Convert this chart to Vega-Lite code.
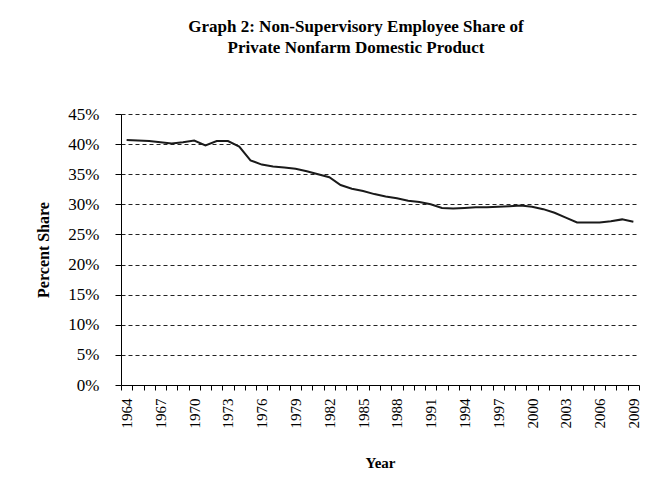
{
  "$schema": "https://vega.github.io/schema/vega-lite/v6.json",
  "width": 518,
  "height": 271,
  "autosize": {"type": "none"},
  "padding": {"left": 121, "top": 114, "right": 24, "bottom": 94},
  "background": "white",
  "title": {
    "text": ["Graph 2: Non-Supervisory Employee Share of", "Private Nonfarm Domestic Product"],
    "font": "Liberation Serif",
    "fontSize": 17,
    "fontWeight": "bold",
    "color": "black",
    "anchor": "middle",
    "offset": 48,
    "lineHeight": 21,
    "dx": -24
  },
  "config": {
    "view": {"stroke": null},
    "axis": {
      "labelFont": "Liberation Serif",
      "titleFont": "Liberation Serif",
      "labelColor": "black",
      "titleColor": "black",
      "domainColor": "black",
      "tickColor": "black",
      "titleFontWeight": "bold"
    }
  },
  "data": {
    "values": [
      {"year": 1964, "share": 40.7},
      {"year": 1965, "share": 40.6},
      {"year": 1966, "share": 40.5},
      {"year": 1967, "share": 40.3},
      {"year": 1968, "share": 40.1},
      {"year": 1969, "share": 40.3},
      {"year": 1970, "share": 40.6},
      {"year": 1971, "share": 39.8},
      {"year": 1972, "share": 40.5},
      {"year": 1973, "share": 40.5},
      {"year": 1974, "share": 39.6},
      {"year": 1975, "share": 37.3},
      {"year": 1976, "share": 36.6},
      {"year": 1977, "share": 36.3},
      {"year": 1978, "share": 36.1},
      {"year": 1979, "share": 35.9},
      {"year": 1980, "share": 35.5},
      {"year": 1981, "share": 35.0},
      {"year": 1982, "share": 34.5},
      {"year": 1983, "share": 33.2},
      {"year": 1984, "share": 32.6},
      {"year": 1985, "share": 32.2},
      {"year": 1986, "share": 31.7},
      {"year": 1987, "share": 31.3},
      {"year": 1988, "share": 31.0},
      {"year": 1989, "share": 30.6},
      {"year": 1990, "share": 30.4},
      {"year": 1991, "share": 30.0},
      {"year": 1992, "share": 29.4},
      {"year": 1993, "share": 29.3},
      {"year": 1994, "share": 29.4},
      {"year": 1995, "share": 29.5},
      {"year": 1996, "share": 29.5},
      {"year": 1997, "share": 29.6},
      {"year": 1998, "share": 29.7},
      {"year": 1999, "share": 29.8},
      {"year": 2000, "share": 29.6},
      {"year": 2001, "share": 29.2},
      {"year": 2002, "share": 28.6},
      {"year": 2003, "share": 27.8},
      {"year": 2004, "share": 27.0},
      {"year": 2005, "share": 27.0},
      {"year": 2006, "share": 27.0},
      {"year": 2007, "share": 27.2},
      {"year": 2008, "share": 27.5},
      {"year": 2009, "share": 27.1}
    ]
  },
  "mark": {"type": "line", "color": "#1a1a1a", "strokeWidth": 2},
  "encoding": {
    "x": {
      "field": "year",
      "type": "ordinal",
      "scale": {"type": "band", "paddingInner": 0, "paddingOuter": 0},
      "axis": {
        "title": "Year",
        "titleFontSize": 15,
        "titlePadding": 27,
        "labelAngle": -90,
        "labelFontSize": 15,
        "labelPadding": 8,
        "labelExpr": "(datum.value - 1964) % 3 == 0 ? datum.label : ''",
        "tickBand": "extent",
        "tickSize": 5,
        "grid": false
      }
    },
    "y": {
      "field": "share",
      "type": "quantitative",
      "scale": {"domain": [0, 45], "nice": false},
      "axis": {
        "title": "Percent Share",
        "titleFontSize": 16,
        "titlePadding": 16,
        "values": [0, 5, 10, 15, 20, 25, 30, 35, 40, 45],
        "labelExpr": "datum.value + '%'",
        "labelFontSize": 17,
        "labelPadding": 16,
        "tickSize": 6,
        "grid": true,
        "gridColor": "#222222",
        "gridDash": [4, 3],
        "gridWidth": 1
      }
    }
  }
}
